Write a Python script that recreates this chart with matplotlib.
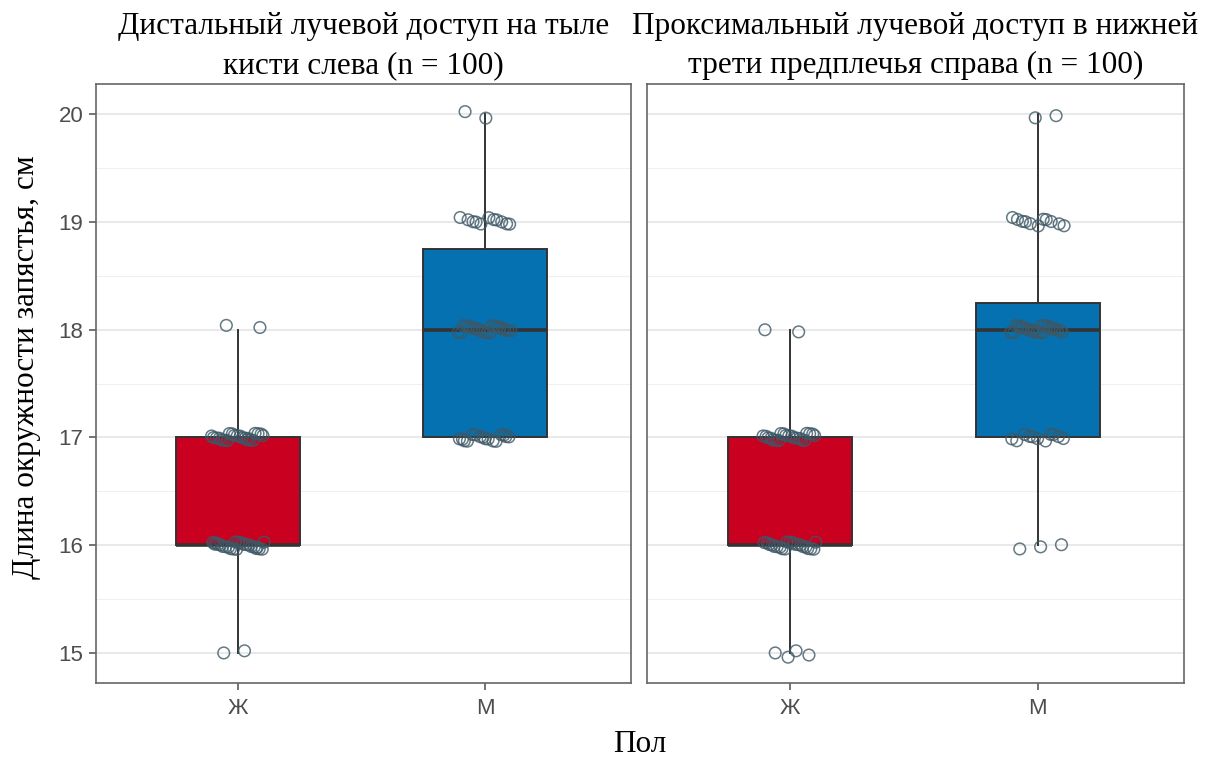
import numpy as np
import matplotlib
matplotlib.use("Agg")
import matplotlib.pyplot as plt

# Wrist circumference (cm) counts per value, by sex and access site
categories = ["Ж", "М"]
panel_titles = [
    "Дистальный лучевой доступ на тыле\nкисти слева (n = 100)",
    "Проксимальный лучевой доступ в нижней\nтрети предплечья справа (n = 100)",
]
y_ticks = [15, 16, 17, 18, 19, 20]

left_f_values = [15, 16, 17, 18]
left_f_counts = [2, 24, 22, 2]
left_m_values = [17, 18, 19, 20]
left_m_counts = [16, 21, 11, 2]

right_f_values = [15, 16, 17, 18]
right_f_counts = [4, 21, 21, 2]
right_m_values = [16, 17, 18, 19, 20]
right_m_counts = [3, 11, 25, 11, 2]

box_colors = ["#CA0020", "#0571B0"]
point_edge = "#3d5866"
serif = ["Liberation Serif", "DejaVu Serif"]
sans = ["Liberation Sans", "DejaVu Sans"]


def expand(values, counts):
    return np.repeat(np.array(values, dtype=float), counts)


panels = [
    [expand(left_f_values, left_f_counts), expand(left_m_values, left_m_counts)],
    [expand(right_f_values, right_f_counts), expand(right_m_values, right_m_counts)],
]

W, H = 1230, 760
fig = plt.figure(figsize=(W / 100, H / 100), dpi=100)
fig.patch.set_facecolor("white")

axes_px = [(96, 631), (647, 1184)]
top_px, bot_px = 84, 683

golden = 0.6180339887
plastic = 0.7548776662

for k, (groups, (x0, x1)) in enumerate(zip(panels, axes_px)):
    ax = fig.add_axes([x0 / W, (H - bot_px) / H, (x1 - x0) / W, (bot_px - top_px) / H])
    ax.set_xlim(0.425, 2.59)
    ax.set_ylim(14.722, 20.278)

    # grid: major at integers, minor at halves
    for v in np.arange(15, 20.01, 1):
        ax.axhline(v, color="#e3e3e3", lw=1.1, zorder=0)
    for v in np.arange(14.5, 20.51, 1):
        ax.axhline(v, color="#f0f0f0", lw=0.8, zorder=0)

    bp = ax.boxplot(
        groups,
        positions=[1, 2],
        widths=0.5,
        whis=1.5,
        patch_artist=True,
        showcaps=False,
        showfliers=False,
        medianprops=dict(color="#333333", lw=2.6),
        whiskerprops=dict(color="#333333", lw=1.4),
        boxprops=dict(edgecolor="#333333", lw=1.4),
        zorder=2,
    )
    for patch, c in zip(bp["boxes"], box_colors):
        patch.set_facecolor(c)

    # jittered points
    idx = 0
    for pos, vals in zip([1, 2], groups):
        n = len(vals)
        i = np.arange(n) + idx + 1
        dx = ((i * golden) % 1 - 0.5) * 2 * 0.11
        dy = ((i * plastic) % 1 - 0.5) * 2 * 0.04
        ax.scatter(pos + dx, vals + dy, s=70, facecolors="none",
                   edgecolors=point_edge, linewidths=1.1, alpha=0.8, zorder=3)
        idx += n + 7 * (k + 1)

    ax.set_xticks([1, 2])
    ax.set_xticklabels(categories, fontsize=16, color="#4d4d4d", family=sans)
    ax.set_yticks(y_ticks)
    if k == 0:
        ax.set_yticklabels([str(t) for t in y_ticks], fontsize=16,
                           color="#4d4d4d", family=sans)
    else:
        ax.tick_params(axis="y", left=False, labelleft=False)
    ax.tick_params(axis="both", color="#4d4d4d", length=5, width=1.1, pad=4)
    ax.tick_params(axis="x", pad=6)
    for s in ax.spines.values():
        s.set_color("#666666")
        s.set_linewidth(1.2)

    ax.set_title(panel_titles[k], fontsize=22.5, family=serif, color="black",
                 pad=8, linespacing=1.45)

fig.text(640 / W, 1 - 745 / H, "Пол", ha="center", va="center",
         fontsize=22.5, family=serif)
fig.text(27 / W, 1 - 367 / H, "Длина окружности запястья, см", ha="center",
         va="center", rotation=90, fontsize=22.5, family=serif)

fig.savefig("out.png", dpi=100)
